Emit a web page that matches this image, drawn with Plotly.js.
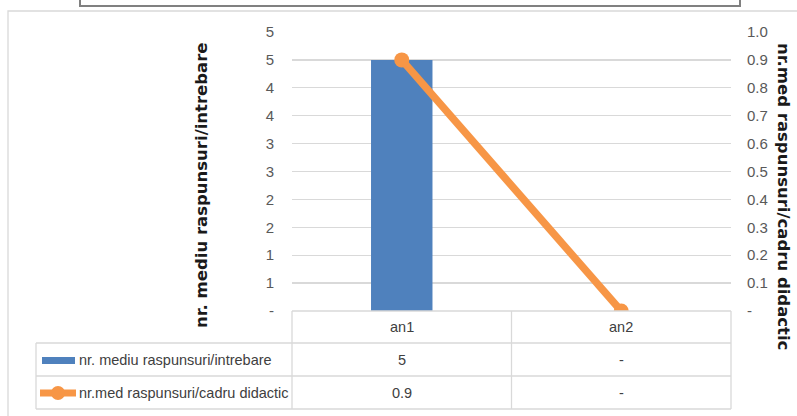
<!DOCTYPE html>
<html>
<head>
<meta charset="utf-8">
<script src="https://cdn.plot.ly/plotly-3.0.1.min.js"></script>
<style>html,body{margin:0;padding:0;background:#fff;}#chart{width:797px;height:416px;}</style>
</head>
<body>
<div id="chart"></div>
<script>
// ---- data ----
const categories = ["an1", "an2"];
const barName = "nr. mediu raspunsuri/intrebare";
const lineName = "nr.med raspunsuri/cadru didactic";
const barValues = [4.5, null];
const lineValues = [0.9, 0];
const leftTickVals = [0, 0.5, 1, 1.5, 2, 2.5, 3, 3.5, 4, 4.5, 5];
const leftTickText = ["-", "1", "1", "2", "2", "3", "3", "4", "4", "5", "5"];
const rightTickVals = [0, 0.1, 0.2, 0.3, 0.4, 0.5, 0.6, 0.7, 0.8, 0.9, 1.0];
const rightTickText = ["-", "0.1", "0.2", "0.3", "0.4", "0.5", "0.6", "0.7", "0.8", "0.9", "1.0"];

// ---- layout geometry ----
const W = 797, H = 416;
const L = 292, R = 731, T = 32, B = 311;
const px = x => (x - L) / (R - L);
const py = y => (B - y) / (B - T);
const gridCol = "#d9d9d9";
const textCol = "#595959";
const FONT = "'Liberation Sans Narrow', 'Liberation Sans', Arial, sans-serif";
const blue = "#4f81bd", orange = "#f79646";

const fmtBar = v => (v === null || v === 0) ? "-" : v.toFixed(0);
const fmtLine = v => (v === null || v === 0) ? "-" : String(v);

const traces = [
  {type: "bar", x: categories, y: barValues, name: barName, marker: {color: blue}, yaxis: "y", hoverinfo: "none"},
  {type: "scatter", mode: "lines+markers", x: categories, y: lineValues, name: lineName, yaxis: "y2",
   line: {color: orange, width: 7.5}, marker: {color: orange, size: 15}, hoverinfo: "none"}
];

// table rows
const rowTop = [311, 343, 376, 409];
const shapes = [];
const lc = {color: gridCol, width: 1.3};
// outer chart frame
shapes.push({type: "rect", xref: "paper", yref: "paper", x0: px(8), x1: px(805), y0: py(11), y1: py(425), line: {color: gridCol, width: 1.3}, layer: "below"});
// top box remnant
shapes.push({type: "rect", xref: "paper", yref: "paper", x0: px(80), x1: px(740), y0: py(-20), y1: py(6), line: {color: "#808080", width: 2}});
// horizontal table lines
shapes.push({type: "line", xref: "paper", yref: "paper", x0: 0, x1: 1, y0: py(rowTop[0]), y1: py(rowTop[0]), line: lc});
for (let i = 1; i < rowTop.length; i++) {
  shapes.push({type: "line", xref: "paper", yref: "paper", x0: px(36), x1: 1, y0: py(rowTop[i]), y1: py(rowTop[i]), line: lc});
}
// vertical table lines
shapes.push({type: "line", xref: "paper", yref: "paper", x0: px(36), x1: px(36), y0: py(rowTop[1]), y1: py(rowTop[3]), line: lc});
[0, 0.5, 1].forEach(f => shapes.push({type: "line", xref: "paper", yref: "paper", x0: f, x1: f, y0: py(rowTop[0]), y1: py(rowTop[3]), line: lc}));
// legend keys
shapes.push({type: "rect", xref: "paper", yref: "paper", x0: px(42), x1: px(75), y0: py(357), y1: py(364), fillcolor: blue, line: {width: 0}});
shapes.push({type: "line", xref: "paper", yref: "paper", x0: px(40), x1: px(76), y0: py(393), y1: py(393), line: {color: orange, width: 7}});
shapes.push({type: "circle", xref: "paper", yref: "paper", x0: px(51), x1: px(65), y0: py(386), y1: py(400), fillcolor: orange, line: {width: 0}});

const annotations = [];
const tfont = {family: FONT, size: 14.5, color: "#404040"};
const rowMid = i => py((rowTop[i] + rowTop[i + 1]) / 2);
categories.forEach((c, j) => {
  annotations.push({xref: "x", yref: "paper", x: c, y: rowMid(0), text: c, showarrow: false, font: tfont, xanchor: "center", yanchor: "middle"});
  annotations.push({xref: "x", yref: "paper", x: c, y: rowMid(1), text: fmtBar(barValues[j]), showarrow: false, font: tfont, xanchor: "center", yanchor: "middle"});
  annotations.push({xref: "x", yref: "paper", x: c, y: rowMid(2), text: fmtLine(lineValues[j]), showarrow: false, font: tfont, xanchor: "center", yanchor: "middle"});
});
annotations.push({xref: "paper", yref: "paper", x: px(77), y: rowMid(1), text: barName, showarrow: false, font: tfont, xanchor: "left", yanchor: "middle"});
annotations.push({xref: "paper", yref: "paper", x: px(77), y: rowMid(2), text: lineName, showarrow: false, font: tfont, xanchor: "left", yanchor: "middle"});
// axis titles
const titleFont = {family: "'DejaVu Sans', sans-serif", size: 16.5, color: "#1a1a1a"};
annotations.push({xref: "paper", yref: "paper", x: px(201), y: py(185), text: "<b>" + barName + "</b>", textangle: -90, showarrow: false, font: titleFont, xanchor: "center", yanchor: "middle"});
annotations.push({xref: "paper", yref: "paper", x: px(784), y: py(196), text: "<b>" + lineName + "</b>", textangle: 90, showarrow: false, font: titleFont, xanchor: "center", yanchor: "middle"});

const layout = {
  width: W, height: H,
  margin: {l: L, r: W - R, t: T, b: H - B, pad: 0},
  paper_bgcolor: "#fff", plot_bgcolor: "#fff",
  showlegend: false,
  bargap: 0.72,
  xaxis: {type: "category", showgrid: false, showticklabels: false, ticks: "", showline: false, zeroline: false, range: [-0.5, 1.5], fixedrange: true},
  yaxis: {range: [0, 5], tickvals: leftTickVals, ticktext: leftTickText, showgrid: true, gridcolor: gridCol, gridwidth: 1.3,
          zeroline: false, showline: false, ticks: "outside", ticklen: 14, tickcolor: "rgba(0,0,0,0)",
          tickfont: {family: FONT, size: 15, color: textCol}},
  yaxis2: {range: [0, 1], overlaying: "y", side: "right", tickvals: rightTickVals, ticktext: rightTickText, showgrid: false,
           zeroline: false, showline: false, ticks: "outside", ticklen: 12, tickcolor: "rgba(0,0,0,0)",
           tickfont: {family: FONT, size: 15, color: textCol}},
  shapes: shapes,
  annotations: annotations
};

Plotly.newPlot("chart", traces, layout, {staticPlot: true, displayModeBar: false});
</script>
</body>
</html>
